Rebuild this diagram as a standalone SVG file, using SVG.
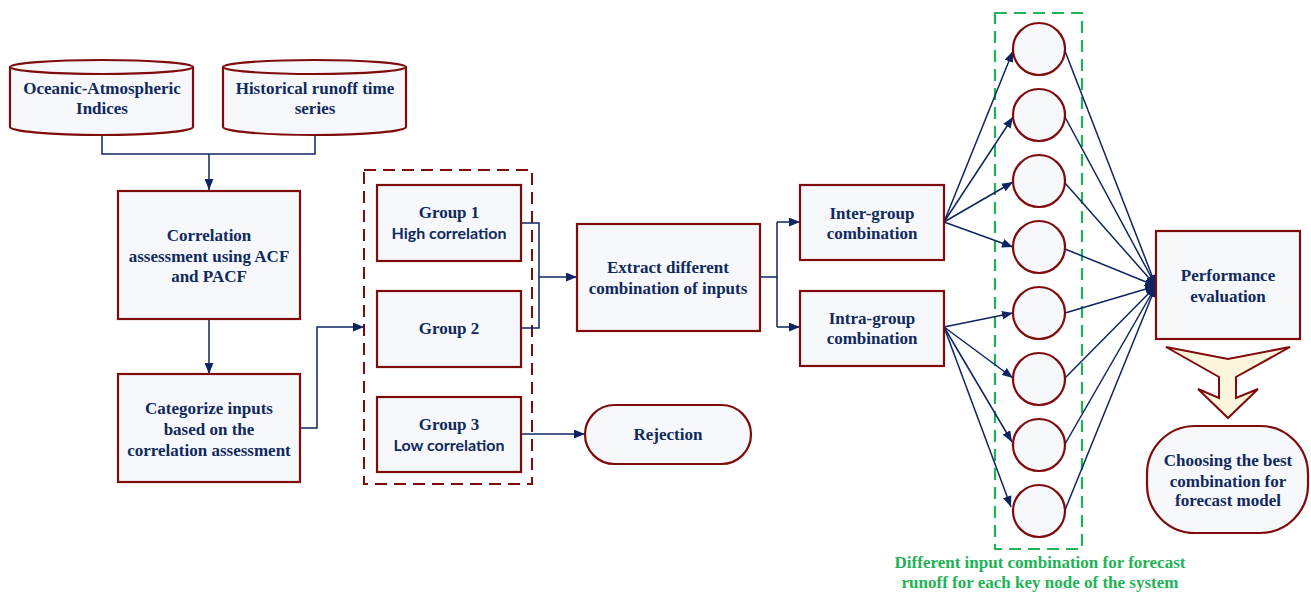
<svg xmlns="http://www.w3.org/2000/svg" width="1311" height="593" viewBox="0 0 1311 593">
<style>
.n{fill:#f7f8fc;stroke:#7f0b0b;stroke-width:2.2}
.t{font-family:"Liberation Serif","Times New Roman",serif;font-weight:bold;font-size:17px;fill:#102a5c;text-anchor:middle}
.s{font-family:Lato,"Open Sans",sans-serif;font-weight:bold;font-size:16px;fill:#102a5c;text-anchor:middle}
.c{fill:none;stroke:#0c2461;stroke-width:1.5}
.a{marker-end:url(#ah)}
.g{font-family:"Liberation Serif","Times New Roman",serif;font-weight:bold;font-size:17px;fill:#1fb356;text-anchor:middle}
</style>
<defs>
<marker id="ah" viewBox="0 0 10 8" refX="10" refY="4" markerWidth="11" markerHeight="9" markerUnits="userSpaceOnUse" orient="auto"><path d="M0,0 L10,4 L0,8 Z" fill="#0c2461"/></marker>
</defs>
<rect width="1311" height="593" fill="#ffffff"/>

<g id="containers">
<rect x="364" y="170" width="168" height="314" fill="none" stroke="#7f0b0b" stroke-width="2" stroke-dasharray="12,7"/>
<rect x="995" y="13" width="87" height="536" fill="none" stroke="#22b35a" stroke-width="2.2" stroke-dasharray="12,7"/>
</g>

<g id="connectors">
<path class="c" d="M102,135 V154 H315 V135"/>
<path class="c a" d="M209,154 V190"/>
<path class="c a" d="M209,319 V374"/>
<path class="c a" d="M300,428 H317 V327 H364"/>
<path class="c" d="M521,223 H539 V328 H521"/>
<path class="c a" d="M539,277 H577"/>
<path class="c a" d="M521,434 H585"/>
<path class="c" d="M760,277 H777 M777,222 V327"/>
<path class="c a" d="M777,222 H800"/>
<path class="c a" d="M777,327 H800"/>
<path class="c a" d="M944,222 L1013,51"/>
<path class="c a" d="M944,222 L1013,117"/>
<path class="c a" d="M944,222 L1013,182"/>
<path class="c a" d="M944,222 L1013,247"/>
<path class="c a" d="M944,327 L1013,313"/>
<path class="c a" d="M944,327 L1013,378"/>
<path class="c a" d="M944,327 L1012,442"/>
<path class="c a" d="M944,327 L1011,507"/>
<path class="c a" d="M1065,51 L1156,286"/>
<path class="c a" d="M1065,117 L1156,286"/>
<path class="c a" d="M1065,183 L1156,286"/>
<path class="c a" d="M1065,249 L1156,286"/>
<path class="c a" d="M1065,313 L1156,286"/>
<path class="c a" d="M1065,378 L1156,286"/>
<path class="c a" d="M1065,444 L1156,286"/>
<path class="c a" d="M1065,510 L1156,286"/>
</g>

<g id="oceanic">
<path class="n" d="M10,67 V127 A91.5,8 0 0 0 193,127 V67"/>
<ellipse class="n" cx="101.5" cy="67" rx="91.5" ry="7"/>
<text class="t" x="102" y="94">Oceanic-Atmospheric</text>
<text class="t" x="102" y="114">Indices</text>
</g>
<g id="historical">
<path class="n" d="M223,67 V127 A91.5,8 0 0 0 406,127 V67"/>
<ellipse class="n" cx="314.5" cy="67" rx="91.5" ry="7"/>
<text class="t" x="315" y="94">Historical runoff time</text>
<text class="t" x="315" y="114">series</text>
</g>
<g id="correlation">
<rect class="n" x="118" y="191" width="182" height="128"/>
<text class="t" x="209" y="241">Correlation</text>
<text class="t" x="209" y="262">assessment using ACF</text>
<text class="t" x="209" y="282">and PACF</text>
</g>
<g id="categorize">
<rect class="n" x="118" y="374" width="182" height="108"/>
<text class="t" x="209" y="414">Categorize inputs</text>
<text class="t" x="209" y="435">based on the</text>
<text class="t" x="209" y="456">correlation assessment</text>
</g>
<g id="group1">
<rect class="n" x="377" y="185" width="144" height="76"/>
<text class="t" x="449" y="218">Group 1</text>
<text class="s" x="449" y="239">High correlation</text>
</g>
<g id="group2">
<rect class="n" x="377" y="291" width="144" height="76"/>
<text class="t" x="449" y="334">Group 2</text>
</g>
<g id="group3">
<rect class="n" x="377" y="397" width="144" height="75"/>
<text class="t" x="449" y="430">Group 3</text>
<text class="s" x="449" y="451">Low correlation</text>
</g>
<g id="extract">
<rect class="n" x="577" y="224" width="183" height="107"/>
<text class="t" x="668" y="273">Extract different</text>
<text class="t" x="668" y="294">combination of inputs</text>
</g>
<g id="rejection">
<rect class="n" x="585" y="405" width="166" height="59" rx="29.5"/>
<text class="t" x="668" y="440">Rejection</text>
</g>
<g id="inter">
<rect class="n" x="800" y="185" width="144" height="75"/>
<text class="t" x="872" y="219">Inter-group</text>
<text class="t" x="872" y="239">combination</text>
</g>
<g id="intra">
<rect class="n" x="800" y="291" width="144" height="75"/>
<text class="t" x="872" y="324">Intra-group</text>
<text class="t" x="872" y="344">combination</text>
</g>
<g id="circles">
<circle class="n" cx="1039" cy="49" r="26"/>
<circle class="n" cx="1039" cy="115" r="26"/>
<circle class="n" cx="1039" cy="181" r="26"/>
<circle class="n" cx="1039" cy="247" r="26"/>
<circle class="n" cx="1039" cy="313" r="26"/>
<circle class="n" cx="1039" cy="379" r="26"/>
<circle class="n" cx="1039" cy="445" r="26"/>
<circle class="n" cx="1039" cy="511" r="26"/>
</g>
<g id="performance">
<rect class="n" x="1156" y="231" width="144" height="108"/>
<text class="t" x="1228" y="281">Performance</text>
<text class="t" x="1228" y="302">evaluation</text>
</g>
<g id="bigarrow">
<path d="M1166,347 L1228,359 L1290,347 L1236,377 V398 L1258,389 L1228,418 L1198,389 L1219,398 V377 Z" fill="#fdf6dc" stroke="#7f0b0b" stroke-width="2" stroke-linejoin="miter"/>
</g>
<g id="choosing">
<rect class="n" x="1147" y="426" width="161" height="107" rx="48"/>
<text class="t" x="1228" y="466">Choosing the best</text>
<text class="t" x="1228" y="487">combination for</text>
<text class="t" x="1228" y="506">forecast model</text>
</g>
<g id="caption">
<text class="g" x="1040" y="568">Different input combination for forecast</text>
<text class="g" x="1040" y="588">runoff for each key node of the system</text>
</g>
</svg>
